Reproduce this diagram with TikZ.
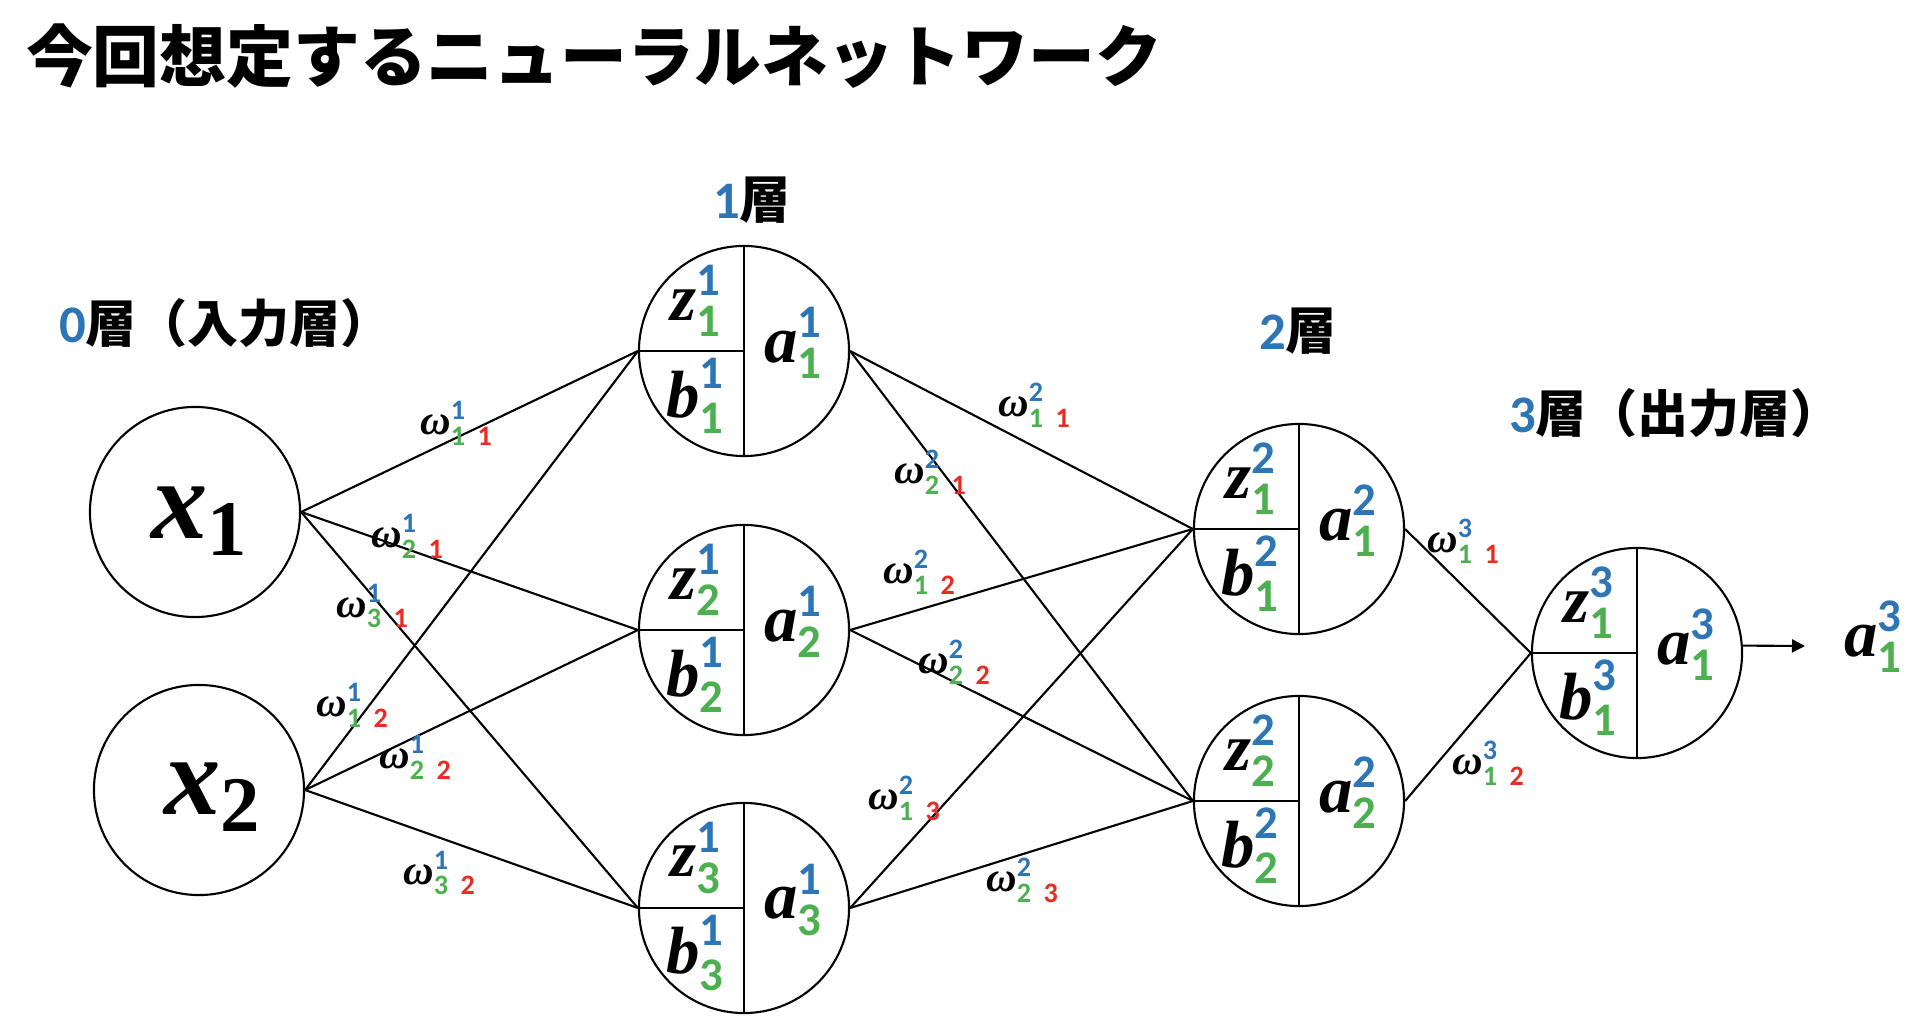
\RequirePackage{fix-cm}
\documentclass[tikz,border=0pt]{standalone}
\usepackage{amsmath}
\usepackage{fontspec}
\newfontfamily\jpfont{Noto Sans CJK JP}
\newfontfamily\digfont{Carlito}
\newfontfamily\ltrfont{Liberation Serif}
\usepackage{tikz}
\usetikzlibrary{arrows.meta}

\definecolor{lblue}{RGB}{46,117,182}
\definecolor{lgreen}{RGB}{76,175,80}
\definecolor{lred}{RGB}{232,44,36}

\newcommand{\ltr}[1]{\text{\ltrfont\bfseries\itshape #1}}
\newcommand{\dg}[2]{\text{\digfont\bfseries\textcolor{#1}{#2}}}
\newcommand{\lab}[3]{$\ltr{#1}^{\dg{lblue}{#2}}_{\dg{lgreen}{#3}}$}
\newcommand{\wl}[3]{$\ltr{ω}^{\dg{lblue}{#1}}_{\text{\digfont\bfseries\textcolor{lgreen}{#2}\hspace{0.45em}\textcolor{lred}{#3}}}$}
\newcommand{\inp}[1]{$\ltr{x}_{\text{\ltrfont\bfseries #1}}$}
\newcommand{\layer}[2]{{\digfont\bfseries\fontsize{15}{18}\selectfont\textcolor{lblue}{#1}}{\jpfont\bfseries #2}}
\newcommand{\neuron}[4]{%
  \begin{scope}[shift={#2}]
    \node[unit] (#1) at (0,0) {};
    \node[lbl] (#1z) at (-48,-50) {\lab{z}{#3}{#4}};
    \node[lbl] (#1b) at (-48,45) {\lab{b}{#3}{#4}};
    \node[lbl] (#1a) at (50,-8) {\lab{a}{#3}{#4}};
  \end{scope}}

\begin{document}
\begin{tikzpicture}[x=0.01cm,y=-0.01cm,line width=0.6pt,
  unit/.style={circle,draw,minimum size=2.1cm,inner sep=0pt,
    path picture={\draw (path picture bounding box.north) -- (path picture bounding box.south);
      \draw (path picture bounding box.west) -- (path picture bounding box.center);}},
  inunit/.style={circle,draw,minimum size=2.1cm,inner sep=0pt},
  lbl/.style={inner sep=0pt,font=\fontsize{19}{22}\selectfont},
  inlbl/.style={inner sep=0pt,font=\fontsize{32}{36}\selectfont},
  wlab/.style={inner sep=0pt,font=\fontsize{12}{14}\selectfont},
  laylab/.style={anchor=west,inner sep=0pt,font=\fontsize{14.5}{17}\selectfont}]
  \useasboundingbox (0,0) rectangle (1929,1024);

  \node[anchor=west,inner sep=0pt,font=\jpfont\bfseries\fontsize{19}{22}\selectfont] (title) at (25,56) {今回想定するニューラルネットワーク};

  % layer captions
  \node[laylab] (lay0) at (58,323) {\layer{0}{層（入力層）}};
  \node[laylab] (lay1) at (712,200) {\layer{1}{層}};
  \node[laylab] (lay2) at (1258,331) {\layer{2}{層}};
  \node[laylab] (lay3) at (1508,413) {\layer{3}{層（出力層）}};

  % input layer
  \node[inunit] (x1) at (195,512) {};
  \node[inlbl] (x1lab) at (200,521) {\inp{1}};
  \node[inunit] (x2) at (199,790) {};
  \node[inlbl] (x2lab) at (213,797) {\inp{2}};

  % hidden and output units
  \neuron{h11}{(744,351)}{1}{1}
  \neuron{h12}{(744,630)}{1}{2}
  \neuron{h13}{(744,908)}{1}{3}
  \neuron{h21}{(1299,529)}{2}{1}
  \neuron{h22}{(1299,801)}{2}{2}
  \neuron{o1}{(1637,653)}{3}{1}

  % weights 0 -> 1
  \draw (x1.east) -- (h11.west);
  \draw (x1.east) -- (h12.west);
  \draw (x1.east) -- (h13.west);
  \draw (x2.east) -- (h11.west);
  \draw (x2.east) -- (h12.west);
  \draw (x2.east) -- (h13.west);
  \node[wlab] (w111) at (457,423) {\wl{1}{1}{1}};
  \node[wlab] (w121) at (408,536) {\wl{1}{2}{1}};
  \node[wlab] (w131) at (373,606) {\wl{1}{3}{1}};
  \node[wlab] (w112) at (353,705) {\wl{1}{1}{2}};
  \node[wlab] (w122) at (416,757) {\wl{1}{2}{2}};
  \node[wlab] (w132) at (440,873) {\wl{1}{3}{2}};

  % weights 1 -> 2
  \draw (h11.east) -- (h21.west);
  \draw (h11.east) -- (h22.west);
  \draw (h12.east) -- (h21.west);
  \draw (h12.east) -- (h22.west);
  \draw (h13.east) -- (h21.west);
  \draw (h13.east) -- (h22.west);
  \node[wlab] (w211) at (1035,405) {\wl{2}{1}{1}};
  \node[wlab] (w221) at (931,472) {\wl{2}{2}{1}};
  \node[wlab] (w212) at (920,572) {\wl{2}{1}{2}};
  \node[wlab] (w222) at (955,662) {\wl{2}{2}{2}};
  \node[wlab] (w213) at (905,798) {\wl{2}{1}{3}};
  \node[wlab] (w223) at (1023,880) {\wl{2}{2}{3}};

  % weights 2 -> 3
  \draw (h21.east) -- (o1.west);
  \draw (h22.east) -- (o1.west);
  \node[wlab] (w311) at (1464,541) {\wl{3}{1}{1}};
  \node[wlab] (w312) at (1489,763) {\wl{3}{1}{2}};

  % output
  \node[lbl] (out) at (1874,637) {\lab{a}{3}{1}};
  \coordinate (outtip) at (1805,646);
  \draw[-{Triangle[length=0.13cm,width=0.13cm]}] (o1.4) -- (outtip);
\end{tikzpicture}
\end{document}
